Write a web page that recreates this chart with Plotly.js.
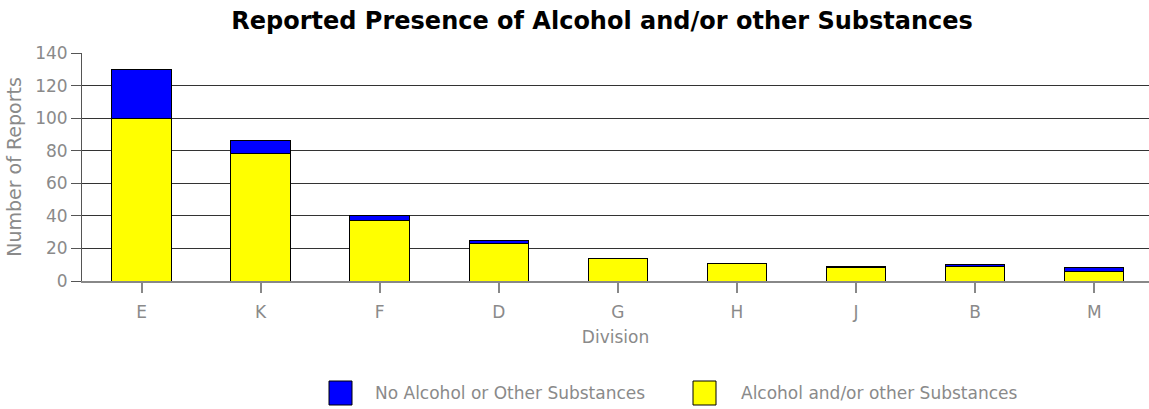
<!DOCTYPE html>
<html>
<head>
<meta charset="utf-8">
<script src="https://cdn.plot.ly/plotly-3.0.1.min.js"></script>
<style>html,body{margin:0;padding:0;background:#fff;}#chart{width:1149px;height:409px;}</style>
</head>
<body>
<div id="chart"></div>
<script>
const divisions = ["E","K","F","D","G","H","J","B","M"];
const withSubstances = [100,78,37,23,14,11,8,9,6];
const noSubstances = [30,8,3,2,0,0,1,1,2];
const seriesNames = ["Alcohol and/or other Substances","No Alcohol or Other Substances"];
const seriesColors = ["#ffff00","#0000ff"];
const yTicks = [0,20,40,60,80,100,120,140];

const lineStyle = {color:'#000', width:1};
const traces = [
  {type:'bar', name:seriesNames[0], x:divisions, y:withSubstances,
   marker:{color:seriesColors[0], line:lineStyle}, width:0.5},
  {type:'bar', name:seriesNames[1], x:divisions, y:noSubstances,
   marker:{color:seriesColors[1], line:lineStyle}, width:0.5}
];
const grey = '#8a8a8a';
const lightFont = {family:'DejaVu Sans', size:17, color:grey};

const legendItems = [
  {name:seriesNames[1], color:seriesColors[1], x0:329, tx:373},
  {name:seriesNames[0], color:seriesColors[0], x0:693, tx:739}
];
const W = 1149, H = 409;
const shapes = legendItems.map(it => ({
  type:'rect', xref:'paper', yref:'paper',
  x0:(it.x0-82)/(W-82), x1:(it.x0+23-82)/(W-82),
  y0:(281-405)/(281-53), y1:(281-381)/(281-53),
  fillcolor:it.color, line:{color:'#000', width:1}
}));
const annotations = legendItems.map(it => ({
  xref:'paper', yref:'paper', x:(it.tx-82)/(W-82), y:(281-393)/(281-53),
  xanchor:'left', yanchor:'middle', showarrow:false, text:it.name,
  font:lightFont
}));

const layout = {
  width:W, height:H,
  margin:{l:82, r:0, t:53, b:128},
  barmode:'stack',
  paper_bgcolor:'#fff', plot_bgcolor:'#fff',
  font:lightFont,
  title:{text:'Reported Presence of Alcohol and/or other Substances',
         font:{size:24, color:'#000', family:'DejaVu Sans', weight:'bold'},
         x:0.524, xanchor:'center', y:0.95, yanchor:'middle'},
  xaxis:{title:{text:'Division', font:lightFont, standoff:10},
         range:[-0.5, 8.46],
         tickfont:lightFont, ticklabelstandoff:5,
         ticks:'outside', ticklen:10, tickcolor:'#888', tickwidth:2,
         showline:true, linecolor:'#888', linewidth:2,
         showgrid:false, zeroline:false, fixedrange:true},
  yaxis:{title:{text:'Number of Reports', font:Object.assign({}, lightFont, {size:19}), standoff:8},
         range:[0,140], tickvals:yTicks, tickfont:lightFont,
         ticks:'outside', ticklen:10, tickcolor:'#555',
         showline:true, linecolor:'#555', linewidth:1,
         showgrid:true, gridcolor:'#333', gridwidth:1, zeroline:false, fixedrange:true},
  shapes:shapes,
  annotations:annotations,
  showlegend:false
};
Plotly.newPlot('chart', traces, layout, {displayModeBar:false, staticPlot:true});
</script>
</body>
</html>
